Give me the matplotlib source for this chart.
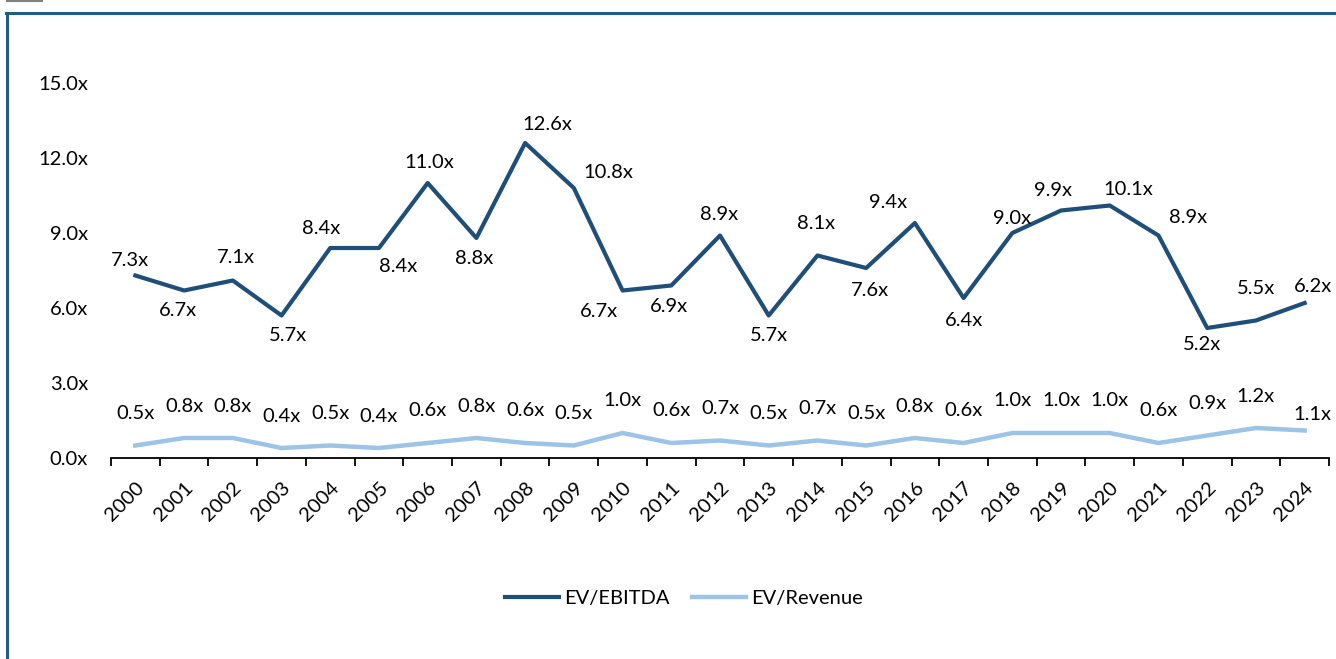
import numpy as np
import matplotlib
matplotlib.use("Agg")
import matplotlib.pyplot as plt
from matplotlib.lines import Line2D

plt.rcParams["font.family"] = ["Lato", "DejaVu Sans"]

years = [str(y) for y in range(2000, 2025)]
ev_ebitda = [7.3, 6.7, 7.1, 5.7, 8.4, 8.4, 11.0, 8.8, 12.6, 10.8, 6.7, 6.9, 8.9,
             5.7, 8.1, 7.6, 9.4, 6.4, 9.0, 9.9, 10.1, 8.9, 5.2, 5.5, 6.2]
ev_revenue = [0.5, 0.8, 0.8, 0.4, 0.5, 0.4, 0.6, 0.8, 0.6, 0.5, 1.0, 0.6, 0.7,
              0.5, 0.7, 0.5, 0.8, 0.6, 1.0, 1.0, 1.0, 0.6, 0.9, 1.2, 1.1]
y_ticks = [0, 3, 6, 9, 12, 15]

# label offsets in pixels (dx, dy)
ebitda_off = [(-5, 15), (-6, -20), (3, 23), (6, -20), (-9, 19), (19, -19),
              (2, 20), (-2, -21), (22, 18), (34, 15), (-24, -21), (-2, -21),
              (-1, 21), (0, -20), (-1, 32), (4, -22), (-27, 21), (0, -22),
              (0, 15), (-8, 20), (18, 16), (30, 18), (-5, -16), (0, 32), (8, 16)]
revenue_off = [(0, 32)] * 24 + [(8, 16)]

dark = "#1F4E79"
light = "#9DC3E6"
frame = "#215C89"
fs = 14.5

fig = plt.figure(figsize=(13.36, 6.59), dpi=100)
ax = fig.add_axes([111 / 1336, 1 - 458 / 659, (1329 - 111) / 1336, (458 - 83) / 659])

x = np.arange(len(years))
ax.plot(x, ev_ebitda, color=dark, lw=3.0, label="EV/EBITDA")
ax.plot(x, ev_revenue, color=light, lw=3.2, label="EV/Revenue")

for xi, v, (dx, dy) in zip(x, ev_ebitda, ebitda_off):
    ax.annotate(f"{v:.1f}x", (xi, v), xytext=(dx, dy), textcoords="offset pixels",
                ha="center", va="center", fontsize=fs, color="black")
for xi, v, (dx, dy) in zip(x, ev_revenue, revenue_off):
    ax.annotate(f"{v:.1f}x", (xi, v), xytext=(dx, dy), textcoords="offset pixels",
                ha="center", va="center", fontsize=fs, color="black")

ax.set_xlim(-0.5, len(years) - 0.5)
ax.set_ylim(0, 15)
ax.set_yticks(y_ticks)
ax.set_yticklabels([f"{t:.1f}x" for t in y_ticks], fontsize=fs)
ax.tick_params(axis="y", length=0, pad=16.5)

ax.set_xticks(x)
ax.set_xticklabels(years, rotation=45, ha="right", rotation_mode="anchor", fontsize=fs)
ax.set_xticks(np.arange(-0.5, len(years)), minor=True)
ax.tick_params(axis="x", which="major", length=0, pad=15)
ax.tick_params(axis="x", which="minor", length=6, width=1.3, color="black")

for s in ["top", "right", "left"]:
    ax.spines[s].set_visible(False)
ax.spines["bottom"].set_linewidth(1.3)

ax.legend(loc="center", bbox_to_anchor=(684 / 1336, 1 - 598 / 659),
          bbox_transform=fig.transFigure, ncol=2, frameon=False, fontsize=fs,
          handlelength=2.7, handletextpad=0.25, columnspacing=1.1)

# outer frame lines
fig.add_artist(Line2D([7 / 1336, 7 / 1336], [0, 1 - 13 / 659], color=frame, lw=2.2,
                      transform=fig.transFigure))
fig.add_artist(Line2D([6 / 1336, 1], [1 - 13 / 659, 1 - 13 / 659], color=frame, lw=2.2,
                      transform=fig.transFigure))
fig.add_artist(Line2D([7 / 1336, 42 / 1336], [1 - 1 / 659, 1 - 1 / 659], color="#808080",
                      lw=1.5, transform=fig.transFigure))

fig.savefig("out.png", dpi=100)
